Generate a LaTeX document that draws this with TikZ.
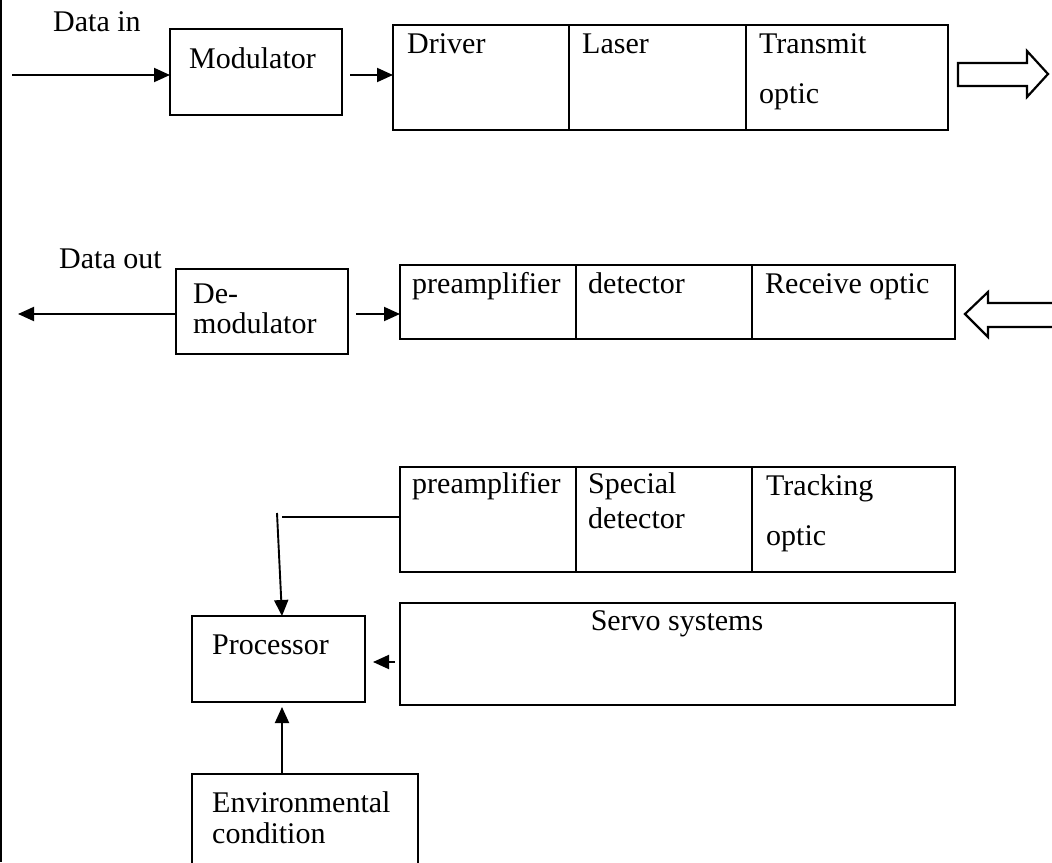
\documentclass[tikz,border=0pt]{standalone}
\usepackage{fontspec}
\setmainfont{Liberation Serif}
\usetikzlibrary{arrows.meta,fit}
\begin{document}
\begin{tikzpicture}[x=1pt,y=-1pt,
  box/.style={draw,line width=2.2pt,inner sep=0pt,outer sep=0pt},
  lbl/.style={anchor=base west,inner sep=0pt,font=\fontsize{30}{36}\selectfont},
  wire/.style={line width=1.9pt},
  tip/.style={wire,-{Triangle[length=16pt,width=14pt]}},
  hollow/.style={line width=2.2pt,line join=miter}]
\useasboundingbox (0,0) rectangle (1052,862);
\clip (0,0) rectangle (1052,862);
% left frame rule
\draw[line width=2.8pt] (1,0) -- (1,862);

% ---- transmitter chain ----
\node[lbl] (din) at (53,31) {Data in};
\node[box,fit={(170,29) (342,115)}] (mod) {};
\node[lbl] (modt) at (189,68) {Modulator};
\node[box,fit={(393,25) (569,130)}] (drv) {};
\node[box,fit={(569,25) (746,130)}] (las) {};
\node[box,fit={(746,25) (948,130)}] (tx) {};
\node[lbl] (drvt) at (407,53) {Driver};
\node[lbl] (last) at (582,53) {Laser};
\node[lbl] (txt1) at (759,53) {Transmit};
\node[lbl] (txt2) at (759,103) {optic};
\coordinate (inA) at (12,75);
\draw[tip] (inA) -- (inA -| mod.west);
\draw[tip,shorten <=8pt] (mod.east |- inA) -- (drv.west |- inA);
% outgoing beam
\draw[hollow] (958,63) -- (1027,63) -- (1027,51) -- (1048,74) -- (1027,97) -- (1027,86) -- (958,86) -- cycle;

% ---- receiver chain ----
\node[lbl] (dout) at (59,268) {Data out};
\node[box,fit={(176,269) (348,354)}] (demod) {};
\node[lbl] (demt1) at (193,303) {De-};
\node[lbl] (demt2) at (193,333) {modulator};
\node[box,fit={(400,265) (576,339)}] (pre1) {};
\node[box,fit={(576,265) (752,339)}] (det) {};
\node[box,fit={(752,265) (955,339)}] (rx) {};
\node[lbl] (pre1t) at (412,293) {preamplifier};
\node[lbl] (dett) at (588,293) {detector};
\node[lbl] (rxt) at (765,293) {Receive optic};
\coordinate (outA) at (18,314);
\draw[tip] (demod.west |- outA) -- (outA);
\draw[tip,shorten <=8pt] (demod.east |- outA) -- (pre1.west |- outA);
% incoming beam
\draw[hollow] (1056,303) -- (988,303) -- (988,292) -- (965,314) -- (988,337) -- (988,327) -- (1056,327);

% ---- tracking and control ----
\node[box,fit={(400,467) (576,572)}] (pre2) {};
\node[box,fit={(576,467) (752,572)}] (sdet) {};
\node[box,fit={(752,467) (955,572)}] (trk) {};
\node[lbl] (pre2t) at (412,493) {preamplifier};
\node[lbl] (sdett1) at (588,493) {Special};
\node[lbl] (sdett2) at (588,528) {detector};
\node[lbl] (trkt1) at (766,495) {Tracking};
\node[lbl] (trkt2) at (766,545) {optic};
\node[box,fit={(400,603) (955,705)}] (servo) {};
\node[lbl,anchor=base] (servot) at (677,630) {Servo systems};
\node[box,fit={(192,616) (365,702)}] (proc) {};
\node[lbl] (proct) at (212,654) {Processor};
\node[box,fit={(192,774) (418,880)}] (env) {};
\node[lbl] (envt1) at (212,812) {Environmental};
\node[lbl] (envt2) at (212,843) {condition};

\coordinate (knee) at (282,517);
\coordinate (drop) at (277,513);
\coordinate (sv) at (0,662);
\coordinate (ex) at (282,0);
\draw[wire] (pre2.west |- knee) -- (knee);
\draw[tip] (drop) -- ([xshift=3.5pt]proc.north);
\draw[tip,shorten <=5pt,shorten >=8pt] (servo.west |- sv) -- (proc.east |- sv);
\draw[tip,shorten >=5pt] (env.north -| ex) -- (proc.south -| ex);
\end{tikzpicture}
\end{document}
